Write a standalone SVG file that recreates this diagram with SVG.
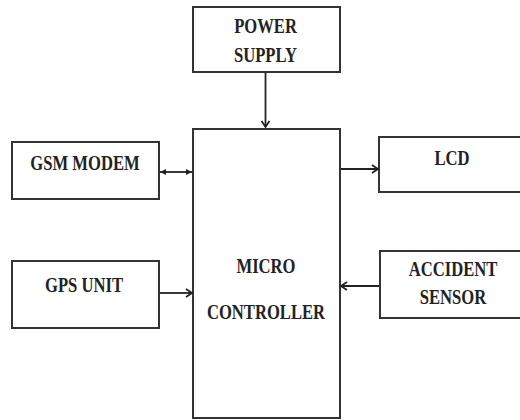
<svg xmlns="http://www.w3.org/2000/svg" width="520" height="420" viewBox="0 0 520 420">
  <defs>
    <style>
      .box { fill: #ffffff; stroke: #333333; stroke-width: 2; }
      .lbl { font-family: 'Liberation Serif', 'Times New Roman', serif; font-weight: bold; font-size: 22px; fill: #222222; text-anchor: middle; }
      .wire { stroke: #222222; stroke-width: 1.8; fill: none; }
    </style>
    <marker id="chev" markerUnits="userSpaceOnUse" markerWidth="10" markerHeight="10" refX="8" refY="5" orient="auto">
      <path d="M2,1 L8,5 L2,9" fill="none" stroke="#222222" stroke-width="1.8"/>
    </marker>
    <marker id="tri" markerUnits="userSpaceOnUse" markerWidth="8" markerHeight="8" refX="6" refY="4" orient="auto-start-reverse">
      <path d="M0,1 L6,4 L0,7 Z" fill="#222222"/>
    </marker>
  </defs>
  <rect width="520" height="420" fill="#ffffff"/>

  <g id="power-supply">
    <rect class="box" x="193" y="7" width="147" height="65"/>
    <text class="lbl" transform="translate(265.5,33) scale(0.755,1)">POWER</text>
    <text class="lbl" transform="translate(265.5,61.5) scale(0.755,1)">SUPPLY</text>
  </g>

  <g id="micro-controller">
    <rect class="box" x="193" y="129" width="147" height="289"/>
    <text class="lbl" transform="translate(266,273) scale(0.755,1)">MICRO</text>
    <text class="lbl" transform="translate(266,319) scale(0.755,1)">CONTROLLER</text>
  </g>

  <g id="gsm-modem">
    <rect class="box" x="12" y="142" width="147" height="57"/>
    <text class="lbl" transform="translate(85,170) scale(0.755,1)">GSM MODEM</text>
  </g>

  <g id="lcd">
    <rect class="box" x="379" y="137" width="150" height="55"/>
    <text class="lbl" transform="translate(452,165) scale(0.755,1)">LCD</text>
  </g>

  <g id="gps-unit">
    <rect class="box" x="12" y="261" width="147" height="67"/>
    <text class="lbl" transform="translate(84,292) scale(0.755,1)">GPS UNIT</text>
  </g>

  <g id="accident-sensor">
    <rect class="box" x="380" y="251" width="150" height="67"/>
    <text class="lbl" transform="translate(453,276) scale(0.755,1)">ACCIDENT</text>
    <text class="lbl" transform="translate(453,304) scale(0.755,1)">SENSOR</text>
  </g>

  <g id="connectors">
    <line class="wire" x1="265.5" y1="73" x2="265.5" y2="127" marker-end="url(#chev)"/>
    <line class="wire" x1="160" y1="172" x2="192" y2="172" marker-start="url(#tri)" marker-end="url(#tri)"/>
    <line class="wire" x1="341" y1="169" x2="378" y2="169" marker-end="url(#chev)"/>
    <line class="wire" x1="160" y1="293" x2="192" y2="293" marker-end="url(#chev)"/>
    <line class="wire" x1="379" y1="286" x2="341" y2="286" marker-end="url(#chev)"/>
  </g>
</svg>
